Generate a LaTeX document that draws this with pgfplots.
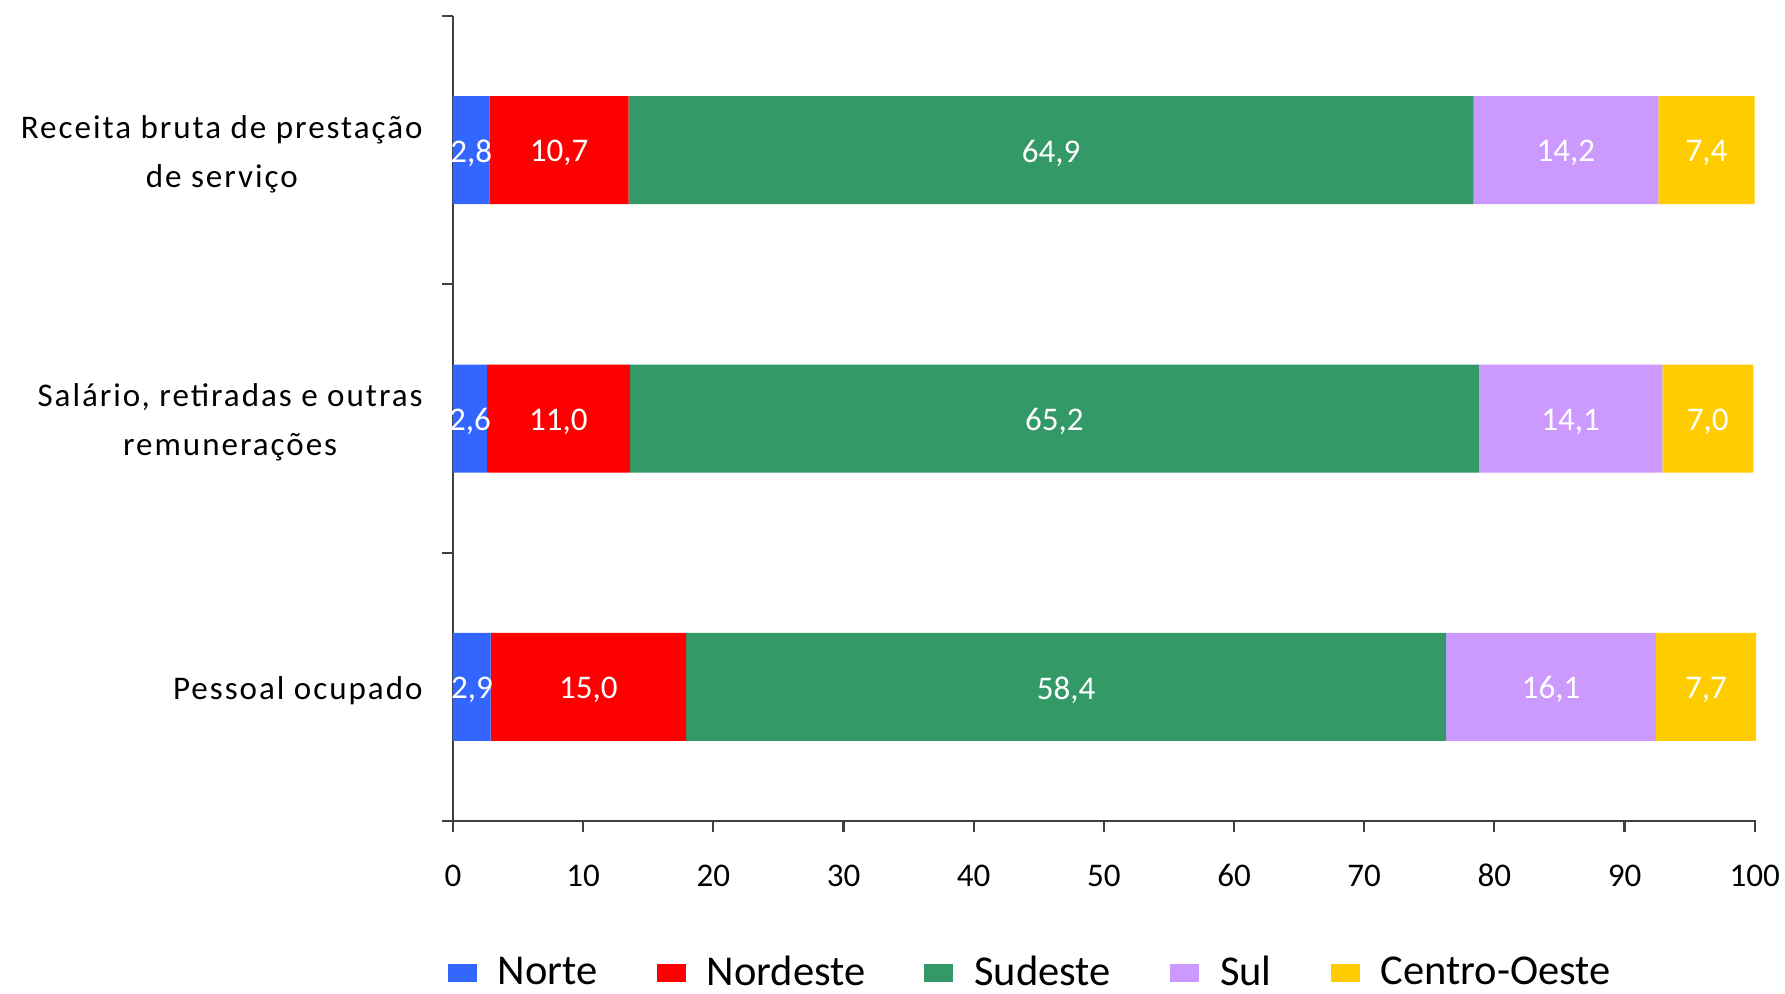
\documentclass[border=0pt]{standalone}
\usepackage{pgfplots}
\usepackage{pgfplotstable}
\usepackage{fontspec}
\setmainfont{Carlito}
\pgfplotsset{compat=1.18}

\definecolor{cnorte}{HTML}{3366FF}
\definecolor{cnordeste}{HTML}{FF0000}
\definecolor{csudeste}{HTML}{339966}
\definecolor{csul}{HTML}{CC99FF}
\definecolor{ccentro}{HTML}{FFCC00}

% 0 = Receita, 1 = Salario, 2 = Pessoal
\pgfplotstableread{
y v
0 2.8
1 2.6
2 2.9
}\norte
\pgfplotstableread{
y v
0 10.7
1 11.0
2 15.0
}\nordeste
\pgfplotstableread{
y v
0 64.9
1 65.2
2 58.4
}\sudeste
\pgfplotstableread{
y v
0 14.2
1 14.1
2 16.1
}\sul
\pgfplotstableread{
y v
0 7.4
1 7.0
2 7.7
}\centro

\begin{document}
\begin{tikzpicture}
\begin{axis}[
    scale only axis,
    width=13.03cm, height=8.05cm,
    xbar stacked,
    bar width=1.08cm,
    xmin=0, xmax=100.1,
    xtick={0,10,...,100},
    ymin=-0.5, ymax=2.5,
    y dir=reverse,
    ytick={-0.5,0.5,1.5,2.5},
    yticklabels={},
    extra y ticks={0,1,2},
    extra y tick labels={{Receita bruta de prestação\\de serviço},{Salário, retiradas e outras\\remunerações},{Pessoal ocupado}},
    extra y tick style={major tick length=0pt,
        yticklabel style={align=center, xshift=-0.18cm, yshift=-0.04cm,
        font=\fontsize{9.4}{13.8}\selectfont\addfontfeatures{LetterSpace=6}}},
    axis lines=left,
    axis line style={-, black!75, line width=0.6pt},
    tick style={black!75, line width=0.6pt},
    tick align=outside,
    major tick length=0.11cm,
    xticklabel style={yshift=-0.15cm, text height=1.6ex, text depth=0.2ex},
    tick label style={font=\fontsize{9.4}{11}\selectfont},
    /pgf/number format/assume math mode=true,
    visualization depends on={\thisrow{v} \as \val},
    nodes near coords={\pgfmathprintnumber[use comma,fixed,fixed zerofill,precision=1]{\val}},
    every node near coord/.append style={white, anchor=center, yshift=-0.03cm,
        font=\fontsize{9.4}{11}\selectfont},
    legend columns=5,
    legend style={draw=none, at={(0.445,-0.189)}, anchor=center, inner sep=1pt,
        font=\fontsize{12.1}{14.5}\selectfont,
        /tikz/every odd column/.append style={column sep=0.14cm},
        /tikz/every even column/.append style={column sep=0.52cm}},
    legend image code/.code={\fill[#1] (0cm,-0.09cm) rectangle (0.29cm,0.09cm);},
]
\addplot[fill=cnorte, draw=none] table[x=v,y=y]{\norte};
\addplot[fill=cnordeste, draw=none] table[x=v,y=y]{\nordeste};
\addplot[fill=csudeste, draw=none] table[x=v,y=y]{\sudeste};
\addplot[fill=csul, draw=none] table[x=v,y=y]{\sul};
\addplot[fill=ccentro, draw=none] table[x=v,y=y]{\centro};
\legend{Norte, Nordeste, Sudeste, Sul, Centro-Oeste}
\end{axis}
\pgfresetboundingbox
\path[use as bounding box] ([shift={(-4.53cm,-1.72cm)}]current axis.south west) rectangle ([shift={(0.29cm,0.16cm)}]current axis.north east);
\end{tikzpicture}
\end{document}
